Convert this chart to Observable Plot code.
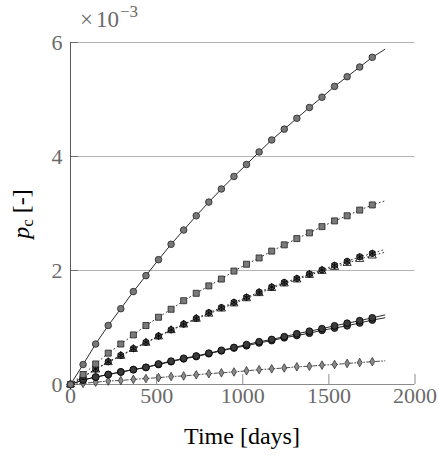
<!DOCTYPE html>
<html>
<head>
<meta charset="utf-8">
<script src="https://cdn.jsdelivr.net/npm/d3@7"></script>
<script src="https://cdn.jsdelivr.net/npm/@observablehq/plot@0.6"></script>
<style>
  html, body { margin: 0; padding: 0; background: white; }
  #chart svg text { font-family: "Liberation Serif", "DejaVu Serif", serif !important; }
</style>
</head>
<body>
<div id="chart"></div>
<script>
// Sample times (days) for markers, and final time of the lines
const days = [0,73,146,219,292,365,438,511,584,657,730,803,876,949,1022,1095,1168,1241,1314,1387,1460,1533,1606,1679,1752];
const endDay = 1825;

// Values in units of 1e-3
const seriesCircle   = [0,0.35,0.71,1.035,1.33,1.63,1.91,2.19,2.46,2.71,2.96,3.20,3.43,3.65,3.86,4.08,4.29,4.48,4.67,4.86,5.04,5.23,5.40,5.57,5.74];
const endCircle = 5.88;
const seriesSquare   = [0,0.175,0.36,0.55,0.71,0.87,1.035,1.18,1.32,1.47,1.60,1.73,1.85,1.99,2.11,2.22,2.34,2.45,2.56,2.66,2.77,2.87,2.96,3.06,3.15];
const endSquare = 3.22;
const seriesStar     = [0,0.14,0.27,0.40,0.51,0.63,0.74,0.85,0.96,1.06,1.16,1.26,1.35,1.44,1.53,1.62,1.71,1.79,1.86,1.94,2.01,2.09,2.16,2.24,2.30];
const endStar = 2.37;
const seriesTriangle = [0,0.13,0.26,0.39,0.50,0.62,0.73,0.84,0.95,1.05,1.15,1.24,1.33,1.42,1.51,1.60,1.69,1.77,1.84,1.92,1.99,2.06,2.13,2.20,2.26];
const endTriangle = 2.32;
const seriesDarkA    = [0,0.08,0.13,0.175,0.22,0.26,0.30,0.36,0.41,0.46,0.50,0.55,0.60,0.65,0.70,0.75,0.79,0.84,0.89,0.935,0.98,1.03,1.075,1.12,1.17];
const endDarkA = 1.22;
const seriesDarkB    = [0,0.08,0.13,0.175,0.22,0.26,0.30,0.35,0.40,0.45,0.49,0.54,0.59,0.64,0.68,0.73,0.77,0.82,0.86,0.90,0.95,0.99,1.03,1.08,1.13];
const endDarkB = 1.17;
const seriesDiamond  = [0,0.02,0.04,0.06,0.07,0.09,0.105,0.12,0.14,0.15,0.17,0.19,0.205,0.22,0.24,0.26,0.275,0.29,0.31,0.32,0.34,0.35,0.37,0.385,0.40];
const endDiamond = 0.415;

const xTicks = [0,500,1000,1500,2000];
const yTicks = [0,2,4,6];

const pts = (vals) => days.map((t, i) => ({t, v: vals[i]}));
const linePts = (vals, end) => pts(vals).concat([{t: endDay, v: end}]);

const W = 439, H = 455, mL = 70, mR = 24.5, mT = 42, mB = 71;
const innerW = W - mL - mR, innerH = H - mT - mB;
const font = "Liberation Serif, DejaVu Serif, serif";

const chart = Plot.plot({
  width: W, height: H,
  marginLeft: mL, marginRight: mR, marginTop: mT, marginBottom: mB,
  x: {domain: [0, 2000]},
  y: {domain: [0, 6]},
  style: {fontFamily: font, fontSize: "22px", background: "white", overflow: "visible"},
  marks: [
    Plot.gridY([2,4,6], {stroke: "#b3b3b3", strokeOpacity: 1, strokeWidth: 1}),
    Plot.ruleX(xTicks.slice(1), {x: d => d, insetTop: innerH - 10, stroke: "#8c8c8c", strokeWidth: 1}),
    Plot.ruleY([2,4,6], {y: d => d, insetRight: innerW - 8, stroke: "#707070", strokeWidth: 1}),
    Plot.ruleY([0], {stroke: "#8c8c8c", strokeWidth: 1}),
    Plot.ruleX([0], {stroke: "#5a5a5a", strokeWidth: 1}),
    Plot.axisX({ticks: xTicks, tickSize: 0, tickPadding: 3, label: null, color: "#6a6a6a", tickFormat: d => String(d), fontSize: 22, fontFamily: font}),
    Plot.axisY({ticks: yTicks, tickSize: 0, tickPadding: 8, label: null, color: "#6a6a6a", tickFormat: d => String(d), fontSize: 22, fontFamily: font}),

    // lines
    Plot.line(linePts(seriesDiamond, endDiamond), {x: "t", y: "v", stroke: "#222", strokeWidth: 0.8, strokeDasharray: "4,2,1,2"}),
    Plot.line(linePts(seriesDarkA, endDarkA), {x: "t", y: "v", stroke: "#111", strokeWidth: 0.9}),
    Plot.line(linePts(seriesDarkB, endDarkB), {x: "t", y: "v", stroke: "#111", strokeWidth: 0.9}),
    Plot.line(linePts(seriesTriangle, endTriangle), {x: "t", y: "v", stroke: "#222", strokeWidth: 0.9, strokeDasharray: "1,3"}),
    Plot.line(linePts(seriesStar, endStar), {x: "t", y: "v", stroke: "#222", strokeWidth: 0.9, strokeDasharray: "1,3"}),
    Plot.line(linePts(seriesSquare, endSquare), {x: "t", y: "v", stroke: "#222", strokeWidth: 0.9, strokeDasharray: "1,3"}),
    Plot.line(linePts(seriesCircle, endCircle), {x: "t", y: "v", stroke: "#111", strokeWidth: 0.9}),

    // markers
    Plot.dot(pts(seriesDiamond), {x: "t", y: "v", symbol: "diamond", r: 2.6, fill: "#8a8a8a", stroke: "#222", strokeWidth: 0.7}),
    Plot.dot(pts(seriesDarkB), {x: "t", y: "v", symbol: "circle", r: 3.4, fill: "#3a3a3a", stroke: "#000", strokeWidth: 0.8}),
    Plot.dot(pts(seriesDarkA), {x: "t", y: "v", symbol: "circle", r: 3.4, fill: "#3a3a3a", stroke: "#000", strokeWidth: 0.8}),
    Plot.dot(pts(seriesTriangle), {x: "t", y: "v", symbol: "triangle", r: 3.0, fill: "white", stroke: "#000", strokeWidth: 0.8}),
    Plot.dot(pts(seriesStar), {x: "t", y: "v", symbol: "circle", r: 3.1, fill: "#555", stroke: "#000", strokeWidth: 0.8}),
    Plot.dot(pts(seriesStar), {x: "t", y: "v", symbol: "asterisk", r: 3.4, stroke: "#000", strokeWidth: 0.8}),
    Plot.dot(pts(seriesSquare), {x: "t", y: "v", symbol: "square", r: 3.4, fill: "#7a7a7a", stroke: "#222", strokeWidth: 0.8}),
    Plot.dot(pts(seriesCircle), {x: "t", y: "v", symbol: "circle", r: 3.3, fill: "#777", stroke: "#222", strokeWidth: 0.8})
  ]
});

const svg = d3.select(chart);

// ×10^-3 multiplier
const mult = svg.append("text")
  .attr("x", 80).attr("y", 27)
  .attr("text-anchor", "start")
  .attr("fill", "#6a6a6a")
  .style("font-size", "23px");
mult.append("tspan").text("×");
mult.append("tspan").attr("dx", 3).text("10");
mult.append("tspan").attr("dy", -10).attr("dx", 1).style("font-size", "17px").text("−3");

// y label
const yl = svg.append("text")
  .attr("transform", "translate(29,214) rotate(-90)")
  .attr("text-anchor", "middle")
  .attr("fill", "#000")
  .style("font-size", "24px");
yl.append("tspan").style("font-style", "italic").text("p");
yl.append("tspan").attr("dy", 4).style("font-size", "17px").text("c");
yl.append("tspan").attr("dy", -4).text(" [-]");

// x label
svg.append("text")
  .attr("x", 242).attr("y", 444)
  .attr("text-anchor", "middle")
  .attr("fill", "#000")
  .style("font-size", "24px")
  .text("Time [days]");

document.getElementById("chart").appendChild(chart);
</script>
</body>
</html>
